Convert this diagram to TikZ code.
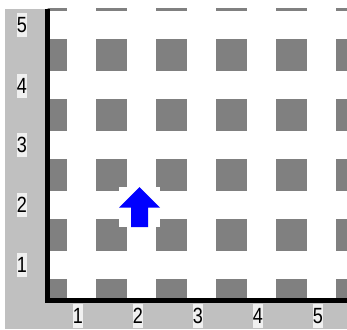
\documentclass[tikz,border=0pt]{standalone}
\usepackage{fontspec}
\setmainfont{Liberation Sans}
\definecolor{panel}{HTML}{C0C0C0}
\definecolor{lightbox}{HTML}{F0F0F0}
\definecolor{cellgray}{HTML}{808080}
\definecolor{arrowblue}{HTML}{0000FF}
\begin{document}
\begin{tikzpicture}[x=1pt,y=-1pt,
  lbl/.style={fill=lightbox, inner sep=0pt, minimum width=11pt, minimum height=24pt,
    font=\fontsize{22}{22}\selectfont, xscale=0.82},
  cell/.style={fill=cellgray},
  axisline/.style={line width=5pt, line join=miter}]
\useasboundingbox (0,0) rectangle (347,329);
\fill[white] (0,0) rectangle (347,329);
\fill[panel] (5,9) rectangle (347,329);
\fill[white] (47.5,9) rectangle (347,300);
\begin{scope}
  \clip (47.5,9) rectangle (347,297.5);
  \foreach \i in {0,...,5}
    \foreach \j in {0,...,5}
      \fill[cell] ({36+60*\i},{-21+60*\j}) rectangle +(31,32);
\end{scope}
\draw[axisline] (47.5,9) -- (47.5,300) -- (347,300);
\foreach \k/\yy in {1/265,2/205,3/145,4/86,5/25}
  \node[lbl] (y\k) at (22,\yy) {\k};
\foreach \k in {1,...,5}
  \node[lbl] (x\k) at ({18+60*\k},316) {\k};
\fill[white] (119,187) rectangle (160,227);
\fill[arrowblue] (139.5,187) -- (160,207.5) -- (148,207.5) -- (148,227)
  -- (131,227) -- (131,207.5) -- (119,207.5) -- cycle;
\end{tikzpicture}
\end{document}
